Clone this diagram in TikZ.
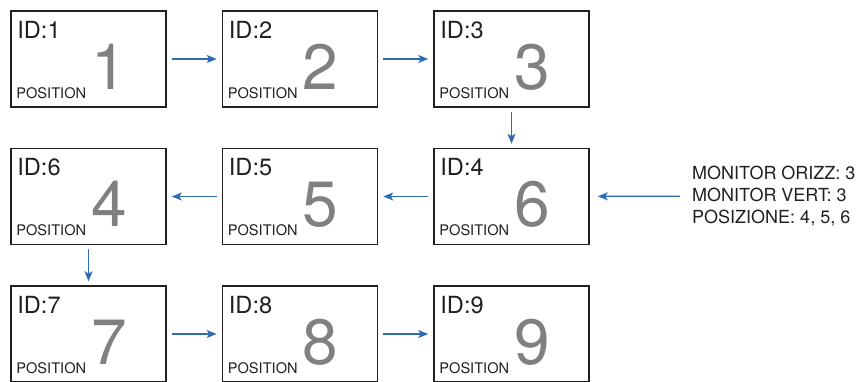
\documentclass[tikz,border=0pt]{standalone}
\usepackage{fontspec}
\setmainfont{TeX Gyre Heros}
\usetikzlibrary{arrows.meta}
\definecolor{flowblue}{HTML}{2E6BB5}
\definecolor{bignum}{HTML}{808080}
\definecolor{ink}{HTML}{231F20}
\tikzset{
 panel/.style={draw=ink,line width=1.6pt,minimum width=155pt,minimum height=96pt,inner sep=0pt},
 flow/.style={draw=flowblue,line width=1.3pt,shorten <=5pt,shorten >=5pt,-{Stealth[length=10pt,width=8pt,inset=2.5pt]}},
}
\begin{document}
\begin{tikzpicture}[x=1pt,y=-1pt]
 \useasboundingbox (0,0) rectangle (865,381);
 %% panels: column/row/id/position
 \foreach \c/\r/\id/\p in {0/0/1/1,1/0/2/2,2/0/3/3,0/1/6/4,1/1/5/5,2/1/4/6,0/2/7/7,1/2/8/8,2/2/9/9}{
  \node[panel] (p\p) at (88.5+211.5*\c,59+137.5*\r) {};
  \node[anchor=base west,inner sep=0pt,text=ink,font=\fontsize{23.6}{24}\selectfont] (id\p) at ([xshift=7pt,yshift=-28pt]p\p.north west) {ID:\id};
  \node[anchor=base west,inner sep=0pt,text=ink,font=\fontsize{14.6}{16}\selectfont] (pl\p) at ([xshift=6pt,yshift=-88pt]p\p.north west) {POSITION};
  \node[anchor=base,inner sep=0pt,text=bignum,font=\fontsize{64}{66}\selectfont] (n\p) at ([xshift=99pt,yshift=-79pt]p\p.north west) {\p};
 }
 %% order of the positions
 \foreach \a/\b in {1/2,2/3,6/5,5/4,7/8,8/9}{\draw[flow] (p\a) -- (p\b);}
 \foreach \a/\b in {3/6,4/7}{\draw[flow,shorten <=4pt,shorten >=4pt] (p\a) -- (p\b);}
 %% settings
 \node[anchor=west,align=left,inner sep=0pt,text=ink,font=\fontsize{18}{22}\selectfont] (info) at (692,196) {MONITOR ORIZZ: 3\\MONITOR VERT: 3\\POSIZIONE: 4, 5, 6};
 \draw[flow,shorten <=12pt,shorten >=8pt] (info) -- (p6);
\end{tikzpicture}
\end{document}
